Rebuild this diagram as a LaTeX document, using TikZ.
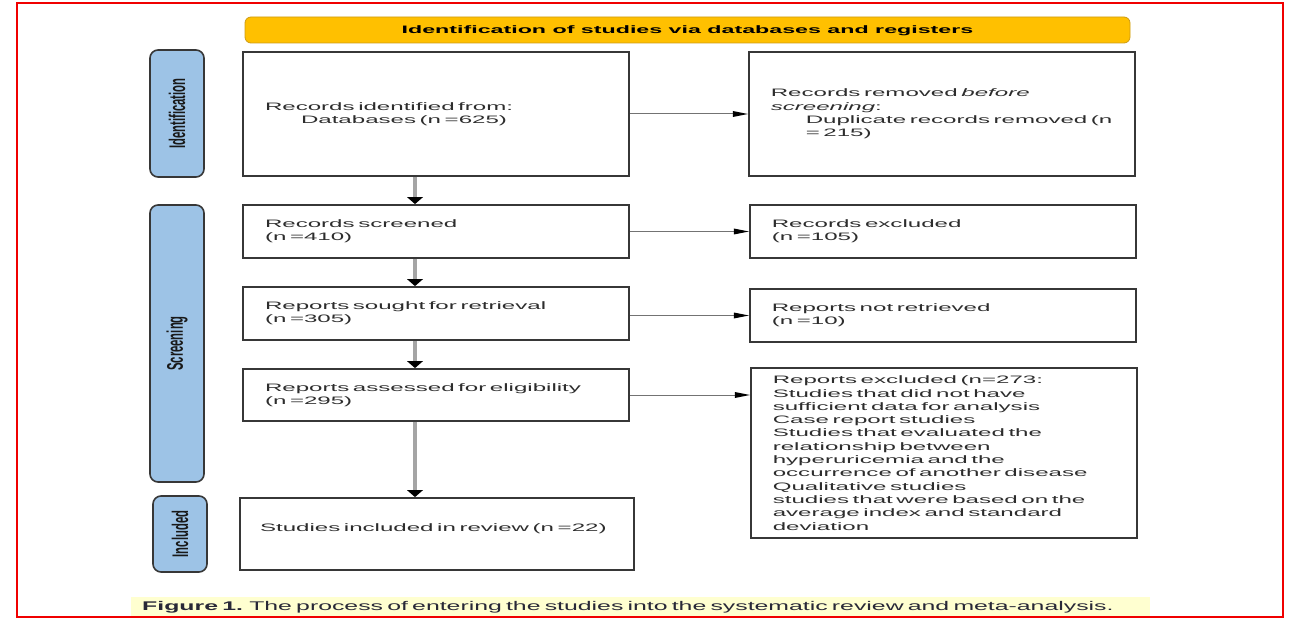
\documentclass[tikz,border=0pt]{standalone}
\usepackage{fontspec}
\setmainfont{Liberation Sans}[FakeStretch=2.23]
\newfontfamily\headfont{Liberation Sans}[FakeStretch=2.15]
\newfontfamily\sidefont{Liberation Sans}
\newfontfamily\capfont{Liberation Sans}[FakeStretch=1.97]
\usepackage{graphicx}
\usepackage{xcolor}
\usetikzlibrary{arrows.meta, positioning}
\definecolor{prismagold}{RGB}{255,192,0}
\definecolor{prismagoldline}{RGB}{205,155,20}
\definecolor{prismablue}{RGB}{157,195,230}
\definecolor{prismaline}{RGB}{55,55,55}
\definecolor{prismatext}{RGB}{45,45,45}
\definecolor{prismagray}{RGB}{115,115,115}
\definecolor{prismalight}{RGB}{165,165,165}
\definecolor{captionbg}{RGB}{255,255,208}
\definecolor{captiontext}{RGB}{40,40,55}
\definecolor{framered}{RGB}{240,0,0}

\begin{document}
\begin{tikzpicture}[
  x=1pt, y=-1pt,
  flowbox/.style={
    rectangle, draw=prismaline, line width=1.8pt, fill=white,
    text width=342pt, inner xsep=22pt, inner ysep=0pt, minimum height=53pt,
    align=left, text=prismatext, font=\fontsize{10.8}{13.3}\selectfont
  },
  phase/.style={
    rectangle, rotate=90, rounded corners=8pt, draw=prismaline,
    line width=1.6pt, fill=prismablue, minimum height=54pt, inner sep=0pt,
    font=\sidefont\bfseries\fontsize{11.3}{12}\selectfont, text=black!90
  },
  banner/.style={
    rectangle, rounded corners=6pt, draw=prismagoldline, line width=0.8pt,
    fill=prismagold, minimum width=885pt, minimum height=26pt, inner sep=0pt,
    text depth=0.5pt, font=\headfont\bfseries\fontsize{10.8}{12}\selectfont
  },
  harrow/.style={prismagray, line width=1pt,
    -{Triangle[length=15pt, width=6pt, color=black, line width=0pt]}},
  varrow/.style={prismalight, line width=4pt,
    -{Triangle[length=7pt, width=16pt, color=black, line width=0pt]}},
  caption/.style={
    fill=captionbg, text width=997pt, inner xsep=11pt, inner ysep=0pt,
    minimum height=20pt, align=left, text=captiontext,
    font=\capfont\fontsize{12.6}{14}\selectfont
  }
]
\useasboundingbox (0,0) rectangle (1300,620);

% Header
\node[banner] (head) at (687.5,30) {Identification of studies via databases and registers};

% Phase bars
\node[phase, minimum width=127pt] (idphase)   at (177,113.5) {\scalebox{1}[2]{Identification}};
\node[phase, minimum width=277pt] (scrphase)  at (177,343.5) {\scalebox{1}[2]{Screening}};
\node[phase, minimum width=76pt]  (incphase)  at (180,534)   {\scalebox{1}[2]{Included}};

% Main column
\node[flowbox, minimum height=124pt] (box1) at (436,114)
  {Records identified from:\\\hspace*{36pt}Databases (n =625)};
\node[flowbox] (screened) at (436,231.5) {Records screened\\(n =410)};
\node[flowbox] (sought)   at (436,313.5) {Reports sought for retrieval\\(n =305)};
\node[flowbox, minimum height=52pt] (assessed) at (436,395) {Reports assessed for eligibility\\(n =295)};
\node[flowbox, minimum height=72pt, text width=354pt, inner xsep=20pt, text depth=12pt] (included) at (437,534)
  {Studies included in review (n =22)};

% Side column
\node[flowbox, minimum height=124pt, right=118pt of box1] (removed)
  {Records removed \textit{before}\\\textit{screening}:\\
   \hspace*{35pt}\mbox{Duplicate records removed (n}\\\hspace*{35pt}= 215)};
\node[flowbox, right=119pt of screened] (excluded) {Records excluded\\(n =105)};
\node[flowbox, right=119pt of sought, yshift=-2pt] (notretr) {Reports not retrieved\\(n =10)};
\node[flowbox, minimum height=170pt, right=120pt of assessed, yshift=-58pt] (exclrep)
  {Reports excluded (n=273:\\Studies that did not have\\sufficient data for analysis\\
   Case report studies\\Studies that evaluated the\\relationship between\\
   hyperuricemia and the\\\mbox{occurrence of another disease}\\Qualitative studies\\
   studies that were based on the\\average index and standard\\deviation};

% Arrows
\draw[varrow] ([xshift=-21pt]box1.south) -- ([xshift=-21pt]screened.north);
\draw[varrow] ([xshift=-21pt]screened.south) -- ([xshift=-21pt]sought.north);
\draw[varrow] ([xshift=-21pt]sought.south) -- ([xshift=-21pt]assessed.north);
\draw[varrow] ([xshift=-21pt]assessed.south) -- ([xshift=-21pt]assessed.south |- included.north);
\draw[harrow] (box1.east) -- (removed.west);
\draw[harrow] (screened.east) -- (excluded.west);
\draw[harrow] (sought.east |- notretr.west) -- (notretr.west);
\draw[harrow] (assessed.east) -- (assessed.east -| exclrep.west);

% Caption and frame
\node[caption, anchor=west] (cap) at (131,607)
  {\textbf{Figure 1.} The process of entering the studies into the systematic review and meta-analysis.};
\draw[framered, line width=1.5pt] (17,3) rectangle (1283,617);

\end{tikzpicture}
\end{document}
